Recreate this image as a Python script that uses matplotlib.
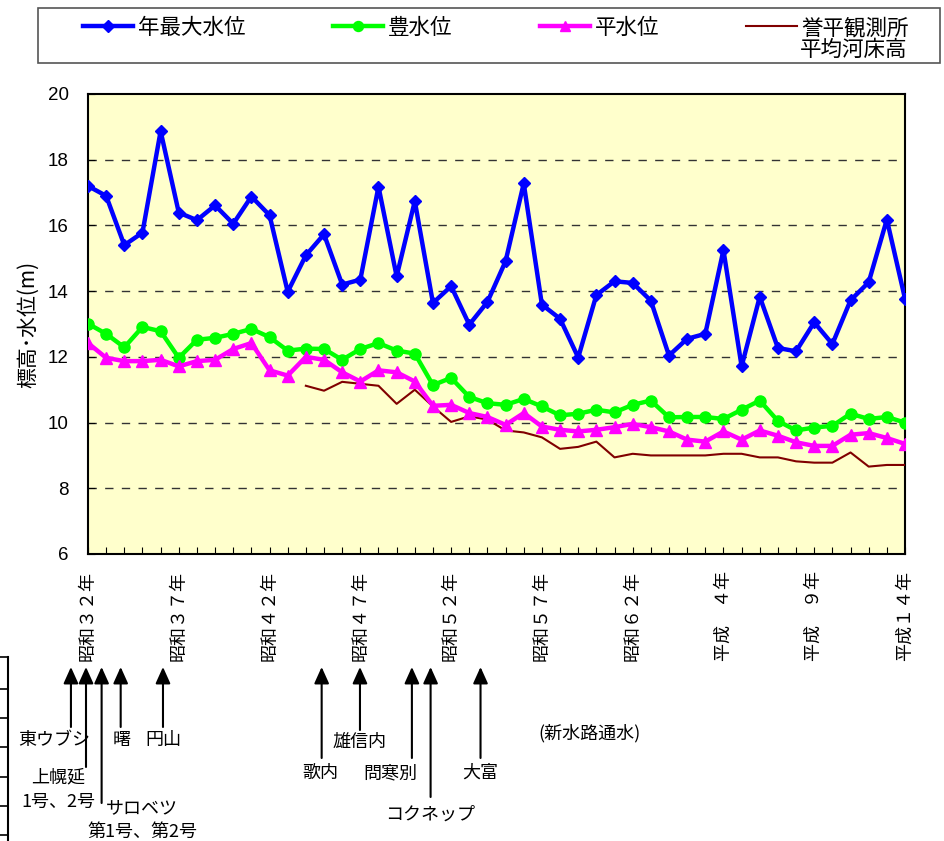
import matplotlib
matplotlib.use("Agg")
import matplotlib.pyplot as plt
import matplotlib.transforms as mtransforms
from matplotlib.lines import Line2D
from matplotlib.patches import Rectangle

# ---------------- data ----------------
n_years = 46  # 昭和32年(1957) .. 平成14年(2002)
year_index = list(range(n_years))

annual_max = [17.2, 16.9, 15.4, 15.78, 18.87, 16.39, 16.16, 16.61, 16.05, 16.88,
              16.31, 13.98, 15.09, 15.73, 14.2, 14.35, 17.18, 14.45, 16.74, 13.64,
              14.15, 12.98, 13.67, 14.91, 17.28, 13.59, 13.16, 11.98, 13.88, 14.3,
              14.25, 13.71, 12.04, 12.55, 12.7, 15.25, 11.71, 13.83, 12.27, 12.17,
              13.05, 12.39, 13.72, 14.27, 16.18, 13.77]

high_water = [13.01, 12.7, 12.29, 12.91, 12.78, 11.97, 12.52, 12.58, 12.7, 12.85,
              12.6, 12.19, 12.25, 12.24, 11.91, 12.24, 12.42, 12.19, 12.1, 11.14,
              11.36, 10.78, 10.59, 10.54, 10.72, 10.49, 10.22, 10.27, 10.39, 10.31,
              10.54, 10.67, 10.16, 10.17, 10.17, 10.11, 10.39, 10.67, 10.05, 9.76,
              9.85, 9.9, 10.27, 10.11, 10.17, 10.0]

normal_water = [12.42, 11.97, 11.87, 11.87, 11.91, 11.71, 11.87, 11.91, 12.24, 12.42,
                11.59, 11.43, 12.0, 11.91, 11.53, 11.25, 11.59, 11.53, 11.25, 10.51,
                10.54, 10.29, 10.17, 9.93, 10.29, 9.88, 9.78, 9.73, 9.78, 9.86,
                9.96, 9.86, 9.73, 9.48, 9.42, 9.73, 9.48, 9.76, 9.6, 9.4,
                9.29, 9.29, 9.63, 9.68, 9.53, 9.35]

bed_start = 12  # 昭和44年
riverbed = [11.12, 10.97, 11.24, 11.18, 11.12, 10.57, 11.0, 10.49, 10.02, 10.19,
            10.09, 9.76, 9.7, 9.55, 9.2, 9.26, 9.42, 8.94, 9.05, 9.0,
            9.0, 9.0, 9.0, 9.05, 9.05, 8.94, 8.94, 8.82, 8.78, 8.78,
            9.09, 8.66, 8.71, 8.71]

series_labels = ["年最大水位", "豊水位", "平水位", "誉平観測所"]
bed_label_line2 = "平均河床高"

xtick_pos = [0, 5, 10, 15, 20, 25, 30, 35, 40, 45]
xtick_labels = ["昭和３２年", "昭和３７年", "昭和４２年", "昭和４７年", "昭和５２年",
                "昭和５７年", "昭和６２年", "平成　４年", "平成　９年", "平成１４年"]
yticks = [6, 8, 10, 12, 14, 16, 18, 20]

# events (cut-off channel completions), x in year index units
event_names = ["東ウブシ", "上幌延\n1号、2号", "サロベツ\n第1号、第2号", "曙", "円山",
               "歌内", "雄信内", "問寒別", "コクネップ", "大富"]
event_x = [-0.94, -0.11, 0.75, 1.80, 4.13, 12.87, 14.98, 17.84, 18.87, 21.62]
# tail y (px) and label center (px)
event_tail_px = [727, 767, 803, 727, 727, 758, 730, 758, 797, 758]
event_label_px = [(54, 740), (58, 790), (142, 820), (122, 740), (163, 740),
                  (320, 773), (360, 742), (390, 773), (430, 815), (480, 773)]

# ---------------- figure ----------------
W, H = 944, 841
JP = ["Noto Sans CJK JP", "DejaVu Sans"]
plt.rcParams["font.family"] = JP

fig = plt.figure(figsize=(W / 100, H / 100), dpi=100)
fx = lambda px: px / W
fy = lambda py: 1 - py / H

ax = fig.add_axes([fx(88), fy(554), fx(905) - fx(88), fy(94) - fy(554)])
ax.set_facecolor("#FFFFCC")

l1, = ax.plot(year_index, annual_max, color="#0000FF", lw=3.2, marker="D", ms=6.5,
              zorder=5)
l2, = ax.plot(year_index, high_water, color="#00FF00", lw=3.2, marker="o", ms=8,
              zorder=4)
l3, = ax.plot(year_index, normal_water, color="#FF00FF", lw=3.2, marker="^", ms=8.5,
              zorder=4)
l4, = ax.plot(year_index[bed_start:], riverbed, color="#800000", lw=1.5, zorder=3)

ax.set_xlim(0, 45)
ax.set_ylim(6, 20)
for g in [8, 10, 12, 14, 16, 18]:
    ax.axhline(g, color="#333333", lw=1.0, dashes=(6, 6), zorder=1)

ax.set_yticks(yticks)
ax.set_yticklabels([str(v) for v in yticks], family=["Liberation Sans"], fontsize=13.5)
ax.set_xticks(xtick_pos)
ax.set_xticklabels(xtick_labels, rotation=90, fontsize=13, va="top", ha="center")
ax.set_xticks(year_index, minor=True)
ax.tick_params(axis="x", which="both", direction="in", length=5, width=0.8,
               pad=12, colors="black")
ax.tick_params(axis="y", which="major", direction="in", length=5, width=0.8,
               pad=14)
for s in ax.spines.values():
    s.set_linewidth(1.5)
    s.set_color("black")

ax.set_ylabel("標高･水位(m)", fontsize=15, labelpad=6)

# ---------------- legend ----------------
fig.legend([l1, l2, l3, l4], series_labels, loc="upper left",
           bbox_to_anchor=(fx(83), fy(17)), ncol=4, frameon=False,
           fontsize=15.5, handlelength=2.33, handletextpad=0.23,
           columnspacing=4.05, borderpad=0, borderaxespad=0, markerscale=0.9)
fig.text(fx(800), fy(50), bed_label_line2, fontsize=15.5, ha="left", va="center")
fig.add_artist(Rectangle((fx(38), fy(63)), fx(940) - fx(38), fy(8) - fy(63),
                         transform=fig.transFigure, fill=False, ec="#555555", lw=1.2))

# ---------------- event arrows ----------------
trans = mtransforms.blended_transform_factory(ax.transData, fig.transFigure)
for name, xe, tail, (lx, ly) in zip(event_names, event_x, event_tail_px, event_label_px):
    ax.annotate("", xy=(xe, fy(667)), xycoords=trans,
                xytext=(xe, fy(tail)), textcoords=trans,
                arrowprops=dict(arrowstyle="-|>,head_length=1.0,head_width=0.45",
                                color="black", lw=1.5, shrinkA=0, shrinkB=0),
                annotation_clip=False)
    fig.text(fx(lx), fy(ly), name, fontsize=13, ha="center", va="center",
             linespacing=1.45)
fig.text(fx(590), fy(733), "(新水路通水)", fontsize=13, ha="center", va="center")

# ---------------- cut-off frame at lower left ----------------
fig.add_artist(Line2D([fx(8), fx(8)], [fy(657), fy(841)], transform=fig.transFigure,
                      color="black", lw=1.5))
for yy in [657, 689, 718, 747, 777, 806, 835]:
    fig.add_artist(Line2D([fx(0), fx(8)], [fy(yy), fy(yy)], transform=fig.transFigure,
                          color="black", lw=1.2))

fig.savefig("out.png", dpi=100)
